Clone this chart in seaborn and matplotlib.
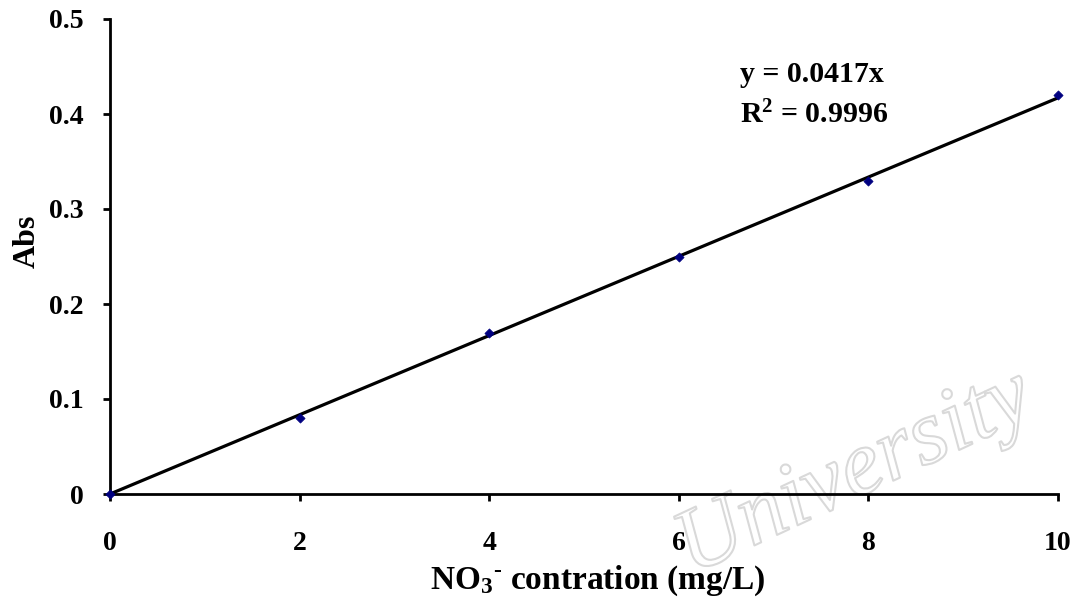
import matplotlib
matplotlib.use("Agg")
import matplotlib.pyplot as plt
import matplotlib.patheffects as pe
import seaborn as sns
import numpy as np
import pandas as pd

# ---- data ----
concentration = [0, 2, 4, 6, 8, 10]
absorbance = [0.0, 0.08, 0.17, 0.25, 0.33, 0.42]
slope = 0.0417
r_squared = 0.9996
x_ticks = [0, 2, 4, 6, 8, 10]
y_ticks = [0, 0.1, 0.2, 0.3, 0.4, 0.5]
y_tick_labels = ["0", "0.1", "0.2", "0.3", "0.4", "0.5"]

sns.set_theme(style="white")
plt.rcParams['font.family'] = ['Liberation Serif', 'DejaVu Serif']
plt.rcParams['font.weight'] = 'bold'
plt.rcParams['text.color'] = 'black'
plt.rcParams['axes.labelcolor'] = 'black'
plt.rcParams['xtick.color'] = 'black'
plt.rcParams['ytick.color'] = 'black'
plt.rcParams['mathtext.fontset'] = 'custom'
plt.rcParams['mathtext.rm'] = 'Liberation Serif:bold'
plt.rcParams['mathtext.it'] = 'Liberation Serif:bold'
plt.rcParams['mathtext.bf'] = 'Liberation Serif:bold'

fig = plt.figure(figsize=(10.8, 6.06), dpi=100)
ax = fig.add_axes([110/1080, 1-494/606, (1058-110)/1080, (494-19)/606])
ax.set_facecolor('none')

# watermark (faint outlined text, behind everything)
fig.text(855/1080, 1-474/606, "University", fontsize=66, style='italic', rotation=25,
         color='none', ha='center', va='center', zorder=-5, fontweight='normal',
         path_effects=[pe.withStroke(linewidth=1.5, foreground='#d9d9d9')])

df = pd.DataFrame({"conc": concentration, "abs": absorbance})
trend_x = np.array([concentration[0], concentration[-1]], dtype=float)
trend = pd.DataFrame({"x": trend_x, "y": slope * trend_x})

sns.lineplot(data=trend, x="x", y="y", ax=ax, color="black", linewidth=2.3, zorder=2)
sns.scatterplot(data=df, x="conc", y="abs", ax=ax, marker="D", s=22,
                color="#000080", edgecolor="#000080", linewidth=0.5, zorder=3, clip_on=False)

ax.set_xlim(0, 10)
ax.set_ylim(0, 0.5)
ax.set_xticks(x_ticks)
ax.set_xticklabels([str(t) for t in x_ticks])
ax.set_yticks(y_ticks)
ax.set_yticklabels(y_tick_labels)

for s in ['top', 'right']:
    ax.spines[s].set_visible(False)
for s in ['left', 'bottom']:
    ax.spines[s].set_linewidth(2.0)
    ax.spines[s].set_color('black')

ax.tick_params(axis='both', which='major', direction='out', length=5, width=2,
               color='black', labelsize=20, labelcolor='black')
ax.tick_params(axis='x', pad=22)
ax.tick_params(axis='y', pad=14)
ax.xaxis.set_ticks_position('bottom')
ax.yaxis.set_ticks_position('left')
for lbl in ax.get_xticklabels() + ax.get_yticklabels():
    lbl.set_fontweight('bold')

ax.set_xlabel(r"NO$_3$$^{\text{-}}$ contration (mg/L)", fontsize=24, fontweight='bold', color='black')
ax.set_ylabel("Abs", fontsize=23, fontweight='bold', color='black')
ax.xaxis.set_label_coords((598-110)/948, (494-564)/475)
ax.yaxis.set_label_coords((42-110)/948, (494-241)/475)

fig.text(740/1080, 1-82/606, f"y = {slope}x", fontsize=21.5, fontweight='bold',
         va='baseline', ha='left', color='black')
fig.text(740/1080, 1-123/606, r"R$^2$" + f" = {r_squared}", fontsize=21.5, fontweight='bold',
         va='baseline', ha='left', color='black')

fig.savefig("out.png", dpi=100)
